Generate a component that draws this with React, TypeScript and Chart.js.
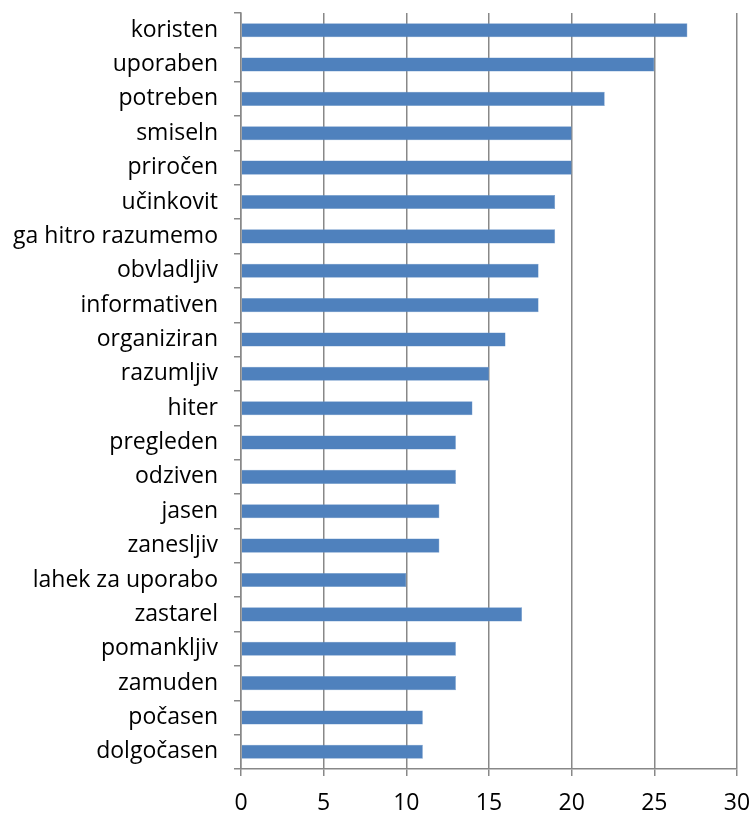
import React, { useEffect, useRef } from "react";
import { Chart, registerables } from "chart.js";

Chart.register(...registerables);

const categories = [
  "koristen",
  "uporaben",
  "potreben",
  "smiseln",
  "priročen",
  "učinkovit",
  "ga hitro razumemo",
  "obvladljiv",
  "informativen",
  "organiziran",
  "razumljiv",
  "hiter",
  "pregleden",
  "odziven",
  "jasen",
  "zanesljiv",
  "lahek za uporabo",
  "zastarel",
  "pomankljiv",
  "zamuden",
  "počasen",
  "dolgočasen",
];

const values = [27, 25, 22, 20, 20, 19, 19, 18, 18, 16, 15, 14, 13, 13, 12, 12, 10, 17, 13, 13, 11, 11];

const xMin = 0;
const xMax = 30;
const xStep = 5;

const FONT = "'Open Sans', sans-serif";
const FONT_SIZE = 23;

export default function App() {
  const ref = useRef<HTMLCanvasElement | null>(null);

  useEffect(() => {
    if (!ref.current) return;
    const chart = new Chart(ref.current, {
      type: "bar",
      data: {
        labels: categories,
        datasets: [
          {
            data: values,
            backgroundColor: "#4F81BD",
            borderColor: "#6E97CA",
            borderWidth: 0.5,
            barPercentage: 0.41,
            categoryPercentage: 1,
          },
        ],
      },
      options: {
        indexAxis: "y",
        responsive: false,
        animation: false,
        maintainAspectRatio: false,
        layout: { padding: { top: 13, right: 16, left: 0, bottom: 0 } },
        plugins: {
          legend: { display: false },
          tooltip: { enabled: false },
        },
        scales: {
          x: {
            min: xMin,
            max: xMax,
            ticks: {
              stepSize: xStep,
              color: "#000",
              font: { family: FONT, size: FONT_SIZE },
              padding: 14,
            },
            grid: {
              color: "#888888",
              lineWidth: 1.5,
              drawTicks: true,
              tickLength: 7,
            },
            border: { color: "#888888", width: 1.5 },
            afterFit: (s: any) => {
              s.height = 47;
              s.paddingLeft = 0;
              s.paddingRight = 0;
            },
          },
          y: {
            offset: true,
            ticks: {
              color: "#000",
              font: { family: FONT, size: FONT_SIZE },
              padding: 16,
              autoSkip: false,
            },
            grid: {
              offset: true,
              drawOnChartArea: false,
              drawTicks: true,
              tickLength: 7,
              color: "#888888",
              lineWidth: 1.5,
            },
            border: { color: "#888888", width: 1.5 },
            afterFit: (s: any) => {
              s.width = 241;
              s.paddingTop = 0;
              s.paddingBottom = 0;
            },
          },
        },
      },
    });
    return () => chart.destroy();
  }, []);

  return (
    <div style={{ position: "fixed", left: 0, top: 0, width: 753, height: 816, background: "#fff" }}>
      <canvas ref={ref} width={753} height={816} />
    </div>
  );
}
